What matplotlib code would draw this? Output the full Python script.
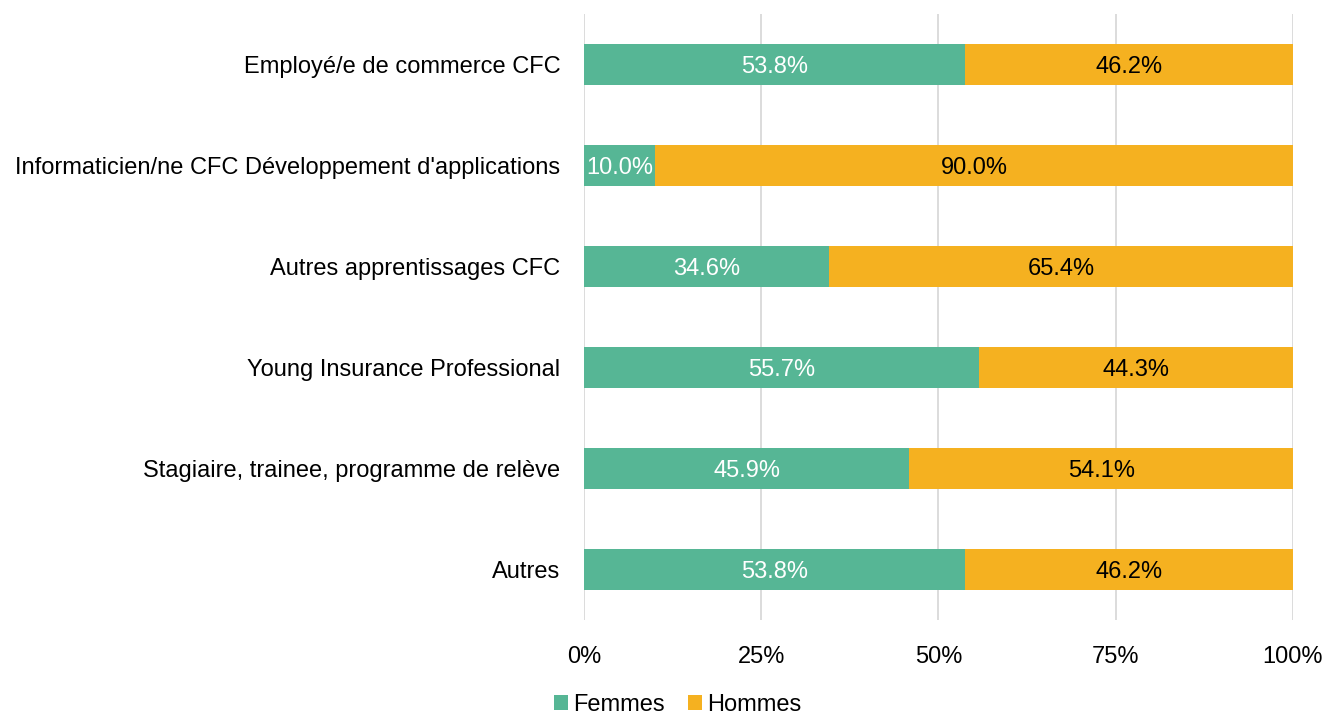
import matplotlib
matplotlib.use("Agg")
import matplotlib.pyplot as plt
import numpy as np

plt.rcParams['font.family'] = ['Liberation Sans', 'DejaVu Sans']

categories = ["Employé/e de commerce CFC",
              "Informaticien/ne CFC Développement d'applications",
              "Autres apprentissages CFC",
              "Young Insurance Professional",
              "Stagiaire, trainee, programme de relève",
              "Autres"]
femmes = [53.8, 10.0, 34.6, 55.7, 45.9, 53.8]
hommes = [46.2, 90.0, 65.4, 44.3, 54.1, 46.2]
xticks = [0, 25, 50, 75, 100]
xticklabels = ["0%", "25%", "50%", "75%", "100%"]

c_f = "#56B695"
c_h = "#F5B120"
FS = 17

fig = plt.figure(figsize=(13.29, 7.16), dpi=100)
ax = fig.add_axes([0.4394, 0.134, 0.5335, 0.8464])

y = np.arange(len(categories))
ax.barh(y, femmes, height=0.4, color=c_f, label="Femmes", zorder=3)
ax.barh(y, hommes, left=femmes, height=0.4, color=c_h, label="Hommes", zorder=3)

for i, (f, h) in enumerate(zip(femmes, hommes)):
    ax.text(f / 2, i + 0.02, f"{f:.1f}%", ha="center", va="center", color="white", fontsize=FS, zorder=4)
    ax.text(f + h / 2, i + 0.02, f"{h:.1f}%", ha="center", va="center", color="black", fontsize=FS, zorder=4)

ax.set_ylim(len(categories) - 0.5, -0.5)
ax.set_xlim(0, 100)
ax.set_yticks(y)
ax.set_yticklabels(categories, fontsize=FS)
ax.set_xticks(xticks)
ax.set_xticklabels(xticklabels, fontsize=FS)
ax.tick_params(axis="both", length=0)
ax.tick_params(axis="x", pad=19)
ax.tick_params(axis="y", pad=17)
ax.grid(axis="x", color="#D9D9D9", linewidth=1.3, zorder=0)
for s in ax.spines.values():
    s.set_visible(False)

leg = fig.legend(loc="lower center", bbox_to_anchor=(0.51, -0.03), ncol=2, frameon=False,
                 fontsize=FS, handlelength=0.6, handleheight=0.6, handletextpad=0.2,
                 columnspacing=1.0)

fig.savefig("out.png", dpi=100)
